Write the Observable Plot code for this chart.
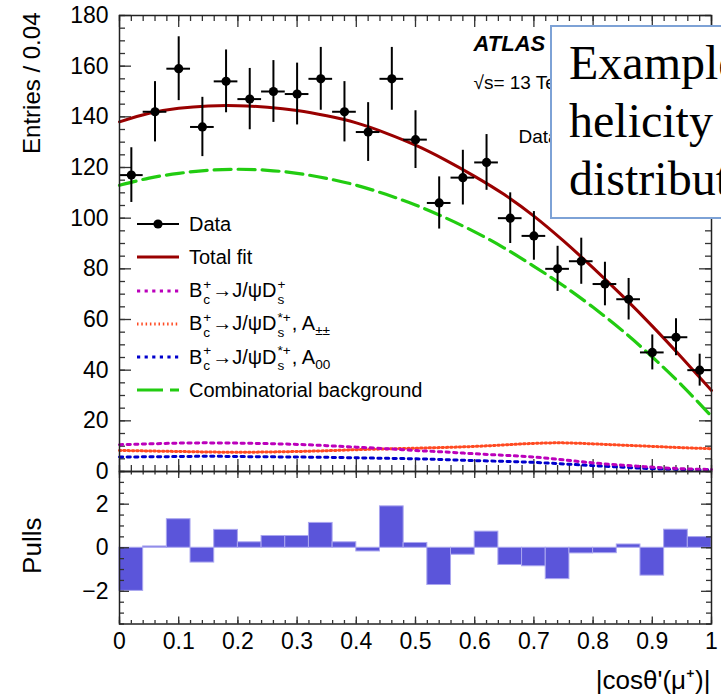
<!DOCTYPE html>
<html>
<head>
<meta charset="utf-8">
<script src="https://cdn.jsdelivr.net/npm/d3@7"></script>
<script src="https://cdn.jsdelivr.net/npm/@observablehq/plot@0.6"></script>
<style>
html,body{margin:0;padding:0;overflow:hidden;background:#fff}
#wrap{position:relative;width:721px;height:695px;overflow:hidden;font-family:"Liberation Sans",Arial,Helvetica,sans-serif;color:#000}
#main{position:absolute;left:0;top:0}
#pull{position:absolute;left:0;top:461px}
.leg-row{position:absolute;left:137px;height:34px;display:flex;align-items:center;white-space:nowrap}
.leg-row svg{flex:none}
.leg-row .lt{margin-left:9px;font-size:20px;line-height:34px}
.ss{display:inline-flex;flex-direction:column;font-size:0.68em;line-height:1.1;vertical-align:0.62em;margin:0 1px 0 1px}
sub{font-size:0.68em;vertical-align:-0.35em;line-height:0}
#box{position:absolute;left:550px;top:25px;width:260px;height:194px;box-sizing:border-box;border:2px solid #7da2d6;background:#fff;
  font-family:"Liberation Serif","Times New Roman",serif;font-size:48px;line-height:58px;padding:7px 0 0 17px;white-space:nowrap;color:#000}
</style>
</head>
<body>
<div id="wrap">
  <div id="main"></div>
  <div id="pull"></div>
  <div id="legend"></div>
  <div id="box"></div>
</div>
<script>
// ---------------- data ----------------
const binCenters = [0.02,0.06,0.10,0.14,0.18,0.22,0.26,0.30,0.34,0.38,0.42,0.46,0.50,0.54,0.58,0.62,0.66,0.70,0.74,0.78,0.82,0.86,0.90,0.94,0.98];
const binHalfWidth = 0.02;
const entries = [117,142,159,136,154,147,150,149,155,142,134,155,131,106,116,122,100,93,80,83,74,68,47,53,40];
const entryErrors = [10.8,11.9,12.6,11.7,12.4,12.1,12.2,12.2,12.4,11.9,11.6,12.4,11.4,10.3,10.8,11.0,10.0,9.6,8.9,9.1,8.6,8.2,6.9,7.3,6.3];
const pulls = [-1.98,0.06,1.31,-0.68,0.82,0.25,0.54,0.54,1.14,0.25,-0.17,1.90,0.22,-1.71,-0.32,0.74,-0.79,-0.85,-1.44,-0.26,-0.25,0.15,-1.28,0.83,0.49];

const curveX = [0,0.05,0.10,0.15,0.20,0.25,0.30,0.35,0.40,0.45,0.50,0.55,0.60,0.65,0.70,0.75,0.80,0.85,0.90,0.95,1.00];
const totalFit = [138,141.4,143.4,144.3,144.4,143.8,142.5,140.4,137.6,133.6,128.8,123.0,116.5,109.3,100.8,91.0,80.4,69.2,57.4,44.9,32.0];
const combinatorialBkg = [113.0,115.8,117.7,118.9,119.3,118.9,117.7,115.7,113.0,109.4,105.2,100.2,94.6,88.2,81.0,73.3,64.8,55.5,45.2,34.0,21.8];
const bcJpsiDs = [10.6,10.9,11.2,11.3,11.2,11.0,10.7,10.2,9.6,9.0,8.3,7.7,7.0,6.4,5.7,4.6,3.4,2.5,1.7,1.1,0.8];
const bcJpsiDsStarPP = [8.3,8.1,7.9,7.7,7.6,7.7,7.9,8.2,8.6,8.9,9.2,9.5,9.9,10.5,11.1,11.3,10.9,10.4,9.9,9.4,9.0];
const bcJpsiDsStar00 = [5.7,5.8,5.9,6.0,5.9,5.8,5.7,5.6,5.4,5.2,5.0,4.7,4.3,4.0,3.6,3.0,2.3,1.7,1.1,0.8,0.7];

const legendLabels = ["Data","Total fit","B_{c}^{+}→J/ψD_{s}^{+}","B_{c}^{+}→J/ψD_{s}^{*+}, A_{±±}","B_{c}^{+}→J/ψD_{s}^{*+}, A_{00}","Combinatorial background"];
const xTicks = [0,0.1,0.2,0.3,0.4,0.5,0.6,0.7,0.8,0.9,1];
const yTicksMain = [0,20,40,60,80,100,120,140,160,180];
const yTicksPull = [-2,0,2];
const xTitle = "|cosθ'(μ⁺)|";
const yTitleMain = "Entries / 0.04";
const yTitlePull = "Pulls";
const atlasLines = ["ATLAS", "√s= 13 TeV, 139 fb⁻¹", "Data 2015–2018"];
const boxLines = ["Example", "helicity", "distribution"];

// ---------------- styles ----------------
const C_TOTAL = "#990000", C_BKG = "#22cc11", C_DS = "#bb00bb", C_PP = "#ff4a22", C_00 = "#0000cc";
const FONT = "Liberation Sans, Arial, Helvetica, sans-serif";
const W = 721, ML = 119, MR = 10;
const plotW = W - ML - MR;
const mainTop = 15, mainH = 471;
const mainPlotH = mainH - mainTop;
const pullTopMargin = 10, pullFrameH = 152.5, pullH = 234;
const TICK = "#333";
const LABEL_SIZE = 23;

const rows = binCenters.map((x, i) => ({x, y: entries[i], e: entryErrors[i], p: pulls[i]}));
const curve = arr => curveX.map((x, i) => ({x, y: arr[i]}));

const minorX = d3.range(0, 1.0001, 0.02).map(v => +v.toFixed(2));
const minorYMain = d3.range(0, 181, 5);
const minorYPull = d3.range(-3.5, 3.51, 0.5);

function yTicks(values, len, pw) {
  return [
    Plot.tickY(values, {y: d => d, insetRight: pw - len, stroke: TICK, strokeWidth: 1.3}),
    Plot.tickY(values, {y: d => d, insetLeft: pw - len, stroke: TICK, strokeWidth: 1.3})
  ];
}
function xTicksMarks(values, lenTop, lenBottom, ph) {
  return [
    Plot.tickX(values, {x: d => d, insetBottom: ph - lenTop, stroke: TICK, strokeWidth: 1.3}),
    Plot.tickX(values, {x: d => d, insetTop: ph - lenBottom, stroke: TICK, strokeWidth: 1.3})
  ];
}

// ---------------- main panel ----------------
const main = Plot.plot({
  width: W, height: mainH,
  marginTop: mainTop, marginBottom: 0, marginLeft: ML, marginRight: MR,
  x: {domain: [0, 1], axis: null},
  y: {domain: [0, 180]},
  style: {fontFamily: FONT, background: "transparent", overflow: "visible", color: "#000"},
  marks: [
    Plot.axisY(yTicksMain, {tickSize: 0, tickPadding: 11, fontSize: LABEL_SIZE, label: null, fill: "#000"}),
    ...yTicks(minorYMain, 6, plotW),
    ...yTicks(yTicksMain, 12, plotW),
    ...xTicksMarks(minorX, 6, 6, mainPlotH),
    ...xTicksMarks(xTicks, 12, 12, mainPlotH),
    Plot.line(curve(bcJpsiDsStar00), {x: "x", y: "y", stroke: C_00, strokeWidth: 3, strokeDasharray: "3.2,4.4", curve: "natural"}),
    Plot.line(curve(bcJpsiDsStarPP), {x: "x", y: "y", stroke: C_PP, strokeWidth: 3, strokeDasharray: "1.5,2.8", curve: "natural"}),
    Plot.line(curve(bcJpsiDs), {x: "x", y: "y", stroke: C_DS, strokeWidth: 3, strokeDasharray: "3.2,4.4", curve: "natural"}),
    Plot.line(curve(combinatorialBkg), {x: "x", y: "y", stroke: C_BKG, strokeWidth: 3.2, strokeDasharray: "17,7", curve: "natural"}),
    Plot.line(curve(totalFit), {x: "x", y: "y", stroke: C_TOTAL, strokeWidth: 3, curve: "natural"}),
    Plot.ruleX(rows, {x: "x", y1: d => d.y - d.e, y2: d => d.y + d.e, stroke: "#000", strokeWidth: 2}),
    Plot.ruleY(rows, {y: "y", x1: d => d.x - binHalfWidth, x2: d => d.x + binHalfWidth, stroke: "#000", strokeWidth: 2}),
    Plot.dot(rows, {x: "x", y: "y", r: 4.6, fill: "#000", stroke: "none"}),
    Plot.frame({stroke: "#222", strokeWidth: 1.5}),
    Plot.text([yTitleMain], {text: d => d, frameAnchor: "top-left", dx: -87, dy: -3, rotate: -90, textAnchor: "end", lineAnchor: "middle", fontSize: 24, fill: "#000"}),
    Plot.text([atlasLines[0]], {text: d => d, frameAnchor: "top-left", dx: 354, dy: 35, textAnchor: "start", lineAnchor: "bottom", fontSize: 22, fontWeight: "bold", fontStyle: "italic", fill: "#000"}),
    Plot.text([atlasLines[1]], {text: d => d, frameAnchor: "top-left", dx: 354, dy: 73, textAnchor: "start", lineAnchor: "bottom", fontSize: 19, fill: "#000"}),
    Plot.text([atlasLines[2]], {text: d => d, frameAnchor: "top-left", dx: 399, dy: 127, textAnchor: "start", lineAnchor: "bottom", fontSize: 19, fill: "#000"})
  ]
});
document.getElementById("main").appendChild(main);

// ---------------- pull panel ----------------
const pull = Plot.plot({
  width: W, height: pullH,
  marginTop: pullTopMargin, marginBottom: pullH - pullTopMargin - pullFrameH, marginLeft: ML, marginRight: MR,
  x: {domain: [0, 1]},
  y: {domain: [-3.5, 3.5]},
  style: {fontFamily: FONT, background: "transparent", overflow: "visible", color: "#000"},
  marks: [
    Plot.rectY(rows, {x1: d => d.x - binHalfWidth, x2: d => d.x + binHalfWidth, y: "p", fill: "#5b55da", stroke: "#aaa6ef", strokeWidth: 1}),
    Plot.axisX(xTicks, {tickSize: 0, tickPadding: 9, fontSize: LABEL_SIZE, label: null, tickFormat: d => String(d), fill: "#000"}),
    Plot.axisY(yTicksPull, {tickSize: 0, tickPadding: 11, fontSize: LABEL_SIZE, label: null, tickFormat: d => d < 0 ? "−" + Math.abs(d) : String(d), fill: "#000"}),
    ...yTicks(minorYPull, 5, plotW),
    ...yTicks(yTicksPull, 10, plotW),
    ...xTicksMarks(minorX, 3.5, 3.5, pullFrameH),
    ...xTicksMarks(xTicks, 7, 7, pullFrameH),
    Plot.frame({stroke: "#222", strokeWidth: 1.5}),
    Plot.text([yTitlePull], {text: d => d, frameAnchor: "left", dx: -87, dy: -2, rotate: -90, textAnchor: "middle", lineAnchor: "middle", fontSize: 26, fill: "#000"}),
    Plot.text([xTitle], {text: d => d, frameAnchor: "bottom-right", dx: -1, dy: 64.5, textAnchor: "end", lineAnchor: "bottom", fontSize: 26, fill: "#000"})
  ]
});
document.getElementById("pull").appendChild(pull);

// ---------------- legend ----------------
const legendRowY = [224, 257, 290.5, 323.5, 357, 390];
const legendStyle = [
  {stroke: "#000", dash: null, w: 2, dot: true},
  {stroke: C_TOTAL, dash: null, w: 3},
  {stroke: C_DS, dash: "3.2,4.4", w: 3},
  {stroke: C_PP, dash: "1.5,2.8", w: 3},
  {stroke: C_00, dash: "3.2,4.4", w: 3},
  {stroke: C_BKG, dash: "26,7", w: 3.2}
];
function toHtml(s) {
  return s.replace(/_\{([^}]*)\}\^\{([^}]*)\}/g, '<span class="ss"><span>$2</span><span>$1</span></span>')
          .replace(/_\{([^}]*)\}/g, '<sub>$1</sub>');
}
const leg = document.getElementById("legend");
legendLabels.forEach((lab, i) => {
  const st = legendStyle[i];
  const row = document.createElement("div");
  row.className = "leg-row";
  row.style.top = (legendRowY[i] - 17) + "px";
  row.innerHTML =
    `<svg width="43" height="34"><line x1="0" x2="42" y1="17" y2="17" stroke="${st.stroke}" stroke-width="${st.w}" ${st.dash ? `stroke-dasharray="${st.dash}"` : ""}/>` +
    (st.dot ? `<circle cx="21" cy="17" r="4.6" fill="#000"/>` : "") + `</svg>` +
    `<span class="lt">${toHtml(lab)}</span>`;
  leg.appendChild(row);
});

// ---------------- overlay box ----------------
document.getElementById("box").innerHTML = boxLines.join("<br>");
</script>
</body>
</html>
